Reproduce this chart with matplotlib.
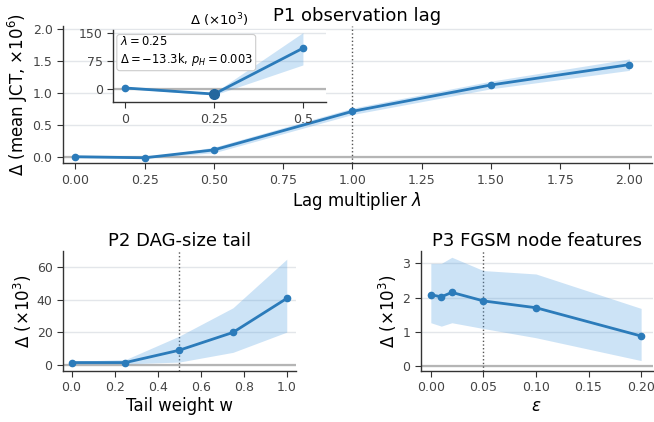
import matplotlib
matplotlib.use("Agg")
import matplotlib.pyplot as plt

# P1 observation lag (values in units of 1e6)
lag_x = [0.0, 0.25, 0.5, 1.0, 1.5, 2.0]
lag_y = [0.003, -0.0133, 0.110, 0.715, 1.128, 1.447]
lag_lo = [0.002, -0.016, 0.065, 0.665, 1.068, 1.357]
lag_hi = [0.004, -0.010, 0.152, 0.765, 1.188, 1.537]

# P2 DAG-size tail (units of 1e3)
tail_x = [0.0, 0.25, 0.5, 0.75, 1.0]
tail_y = [1.2, 1.2, 8.8, 19.8, 40.8]
tail_lo = [0.3, 0.4, 1.5, 7.5, 20.0]
tail_hi = [2.0, 3.0, 17.5, 35.0, 65.0]

# P3 FGSM node features (units of 1e3)
eps_x = [0.0, 0.01, 0.02, 0.05, 0.1, 0.2]
eps_y = [2.08, 2.02, 2.15, 1.90, 1.70, 0.87]
eps_lo = [1.26, 1.16, 1.26, 1.09, 0.82, 0.15]
eps_hi = [3.00, 3.00, 3.18, 2.79, 2.69, 1.68]

LINE = "#2b7bba"
BAND = "#4a9be0"
TICKC = "#444444"

plt.rcParams["font.family"] = "DejaVu Sans"
plt.rcParams["axes.labelpad"] = 2.0


def style(ax, ref_x):
    for s in ["top", "right"]:
        ax.spines[s].set_visible(False)
    for s in ["left", "bottom"]:
        ax.spines[s].set_color("#333333")
        ax.spines[s].set_linewidth(1.0)
    ax.tick_params(labelsize=9, colors=TICKC, length=4)
    ax.tick_params(axis="both", which="both", color="#333333")
    ax.yaxis.grid(True, color="#e3e6ea", lw=1.0)
    ax.set_axisbelow(True)
    ax.axhline(0, color="#b5b5b5", lw=1.6, zorder=1)
    if ref_x is not None:
        ax.axvline(ref_x, color="#555555", lw=1.0, ls=":", zorder=2)


def draw(ax, x, y, lo, hi):
    ax.fill_between(x, lo, hi, color=BAND, alpha=0.28, lw=0, zorder=2)
    ax.plot(x, y, color=LINE, lw=2.0, marker="o", ms=4.5, zorder=3)


fig = plt.figure(figsize=(6.54, 4.22), dpi=100)

ax1 = fig.add_axes([0.0963, 0.613, 0.9, 0.325])
style(ax1, 1.0)
draw(ax1, lag_x, lag_y, lag_lo, lag_hi)
ax1.set_xlim(-0.045, 2.08)
ax1.set_ylim(-0.1, 2.05)
ax1.set_xticks([0, 0.25, 0.5, 0.75, 1.0, 1.25, 1.5, 1.75, 2.0])
ax1.set_yticks([0.0, 0.5, 1.0, 1.5, 2.0])
ax1.set_title("P1 observation lag", fontsize=13, pad=4)
ax1.set_xlabel("Lag multiplier $\\lambda$", fontsize=12)
ax1.set_ylabel("$\\Delta$ (mean JCT, $\\times10^6$)", fontsize=12)

# inset zoom on small lags
axi = fig.add_axes([0.1733, 0.758, 0.3257, 0.17])
axi.set_facecolor("white")
style(axi, None)
k = 3
ins_y = [v * 1000 for v in lag_y[:k]]
ins_lo = [v * 1000 for v in lag_lo[:k]]
ins_hi = [v * 1000 for v in lag_hi[:k]]
draw(axi, lag_x[:k], ins_y, ins_lo, ins_hi)
axi.plot([lag_x[1]], [ins_y[1]], "o", color="#24679e", ms=7, zorder=4)
axi.set_xlim(-0.034, 0.566)
axi.set_ylim(-35, 158)
axi.set_xticks([0, 0.25, 0.5])
axi.set_xticklabels(["0", "0.25", "0.5"])
axi.set_yticks([0, 75, 150])
axi.tick_params(labelsize=9)
axi.set_title("$\\Delta$ ($\\times10^3$)", fontsize=9.5, pad=4)
axi.text(0.03, 0.93, "$\\lambda = 0.25$\n$\\Delta = -13.3$k, $p_H = 0.003$",
         transform=axi.transAxes, fontsize=8.3, va="top", ha="left",
         bbox=dict(boxstyle="round,pad=0.25", fc="white", ec="#cccccc", lw=0.8))

ax2 = fig.add_axes([0.0963, 0.1209, 0.3563, 0.284])
style(ax2, 0.5)
draw(ax2, tail_x, tail_y, tail_lo, tail_hi)
ax2.set_xlim(-0.04, 1.043)
ax2.set_ylim(-4, 70)
ax2.set_yticks([0, 20, 40, 60])
ax2.set_title("P2 DAG-size tail", fontsize=13, pad=4)
ax2.set_xlabel("Tail weight w", fontsize=12)
ax2.set_ylabel("$\\Delta$ ($\\times10^3$)", fontsize=12)

ax3 = fig.add_axes([0.643, 0.1209, 0.355, 0.284])
style(ax3, 0.05)
draw(ax3, eps_x, eps_y, eps_lo, eps_hi)
ax3.set_xlim(-0.0098, 0.211)
ax3.set_ylim(-0.155, 3.36)
ax3.set_xticks([0, 0.05, 0.1, 0.15, 0.2])
ax3.set_xticklabels(["0.00", "0.05", "0.10", "0.15", "0.20"])
ax3.set_yticks([0, 1, 2, 3])
ax3.set_title("P3 FGSM node features", fontsize=13, pad=4)
ax3.set_xlabel("$\\varepsilon$", fontsize=12)
ax3.set_ylabel("$\\Delta$ ($\\times10^3$)", fontsize=12)

fig.savefig("out.png", dpi=100)
